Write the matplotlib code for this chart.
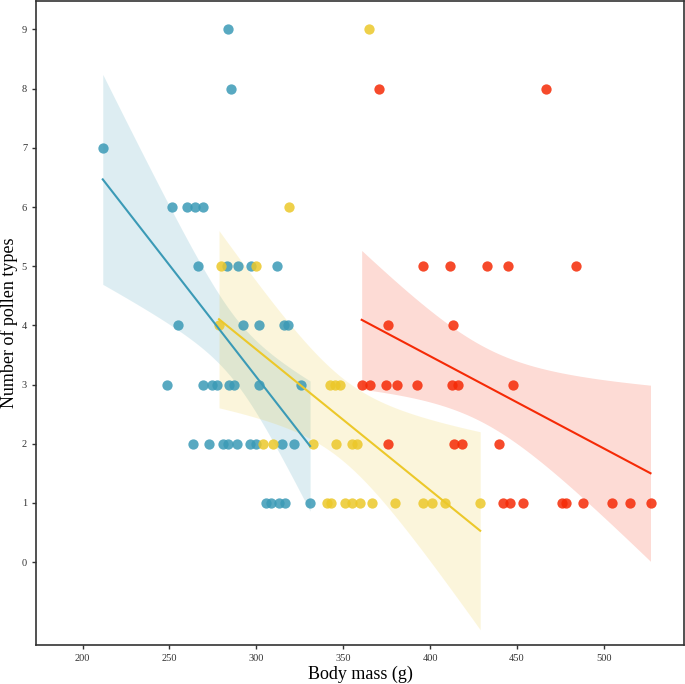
import numpy as np
import matplotlib.pyplot as plt

plt.rcParams['font.family'] = ['Liberation Serif', 'DejaVu Serif']

# Body mass (g) and number of pollen types
blue_mass = [305.6, 308.5, 313.1, 316.5, 330.9,
             263.4, 272.8, 280.8, 283.7, 288.7, 296.4, 299.8, 314.6, 321.7,
             248.8, 269.5, 274.3, 277.2, 284.5, 287.2, 301.7, 325.9,
             254.8, 292.5, 301.7, 316.1, 318.1,
             266.6, 283.3, 289.6, 296.8, 311.7,
             251.7, 260.0, 264.7, 269.5,
             211.6, 285.6, 283.5]
blue_pollen = [1] * 5 + [2] * 9 + [3] * 8 + [4] * 5 + [5] * 5 + [6] * 4 + [7, 8, 9]

yellow_mass = [340.7, 343.0, 351.0, 354.9, 359.7, 366.4, 379.8, 396.1, 400.9, 408.6, 428.8,
               304.0, 309.4, 332.5, 345.7, 354.9, 358.1,
               342.4, 345.3, 348.2,
               278.5,
               279.7, 299.8,
               318.8,
               364.9]
yellow_pollen = [1] * 11 + [2] * 6 + [3] * 3 + [4] + [5] * 2 + [6] + [9]

red_mass = [441.8, 446.0, 453.6, 475.9, 478.2, 487.8, 504.8, 515.0, 526.8,
            375.6, 413.8, 418.2, 439.6,
            360.6, 365.4, 374.6, 380.8, 392.6, 412.4, 416.2, 447.9,
            375.6, 413.3,
            395.7, 411.5, 432.6, 444.7, 483.8,
            370.6, 466.7]
red_pollen = [1] * 9 + [2] * 4 + [3] * 8 + [4] * 2 + [5] * 5 + [8, 8]

groups = [
    (blue_mass, blue_pollen, '#3b9ab6'),
    (yellow_mass, yellow_pollen, '#ecc82a'),
    (red_mass, red_pollen, '#f52a06'),
]

fig = plt.figure(figsize=(6.85, 6.84), dpi=100)
ax = fig.add_axes([0.0526, 0.057, 0.946, 0.9415])

for mass, pollen, color in groups:
    x = np.array(mass)
    y = np.array(pollen, dtype=float)
    ax.scatter(x, y, s=55, color=color, alpha=0.85, linewidths=0, zorder=2)

    # linear fit with 95% confidence band
    slope, icept = np.polyfit(x, y, 1)
    xs = np.linspace(x.min(), x.max(), 100)
    fit = icept + slope * xs
    n = len(x)
    resid = y - (icept + slope * x)
    s = np.sqrt(np.sum(resid ** 2) / (n - 2))
    sxx = np.sum((x - x.mean()) ** 2)
    half = 1.9 * s * np.sqrt(1 / n + (xs - x.mean()) ** 2 / sxx)
    ax.fill_between(xs, fit - half, fit + half, color=color, alpha=0.17, linewidth=0, zorder=1)
    ax.plot(xs, fit, color=color, lw=1.5, zorder=3)

ax.set_xlim(173.2, 546.1)
ax.set_ylim(-1.40, 9.48)
ax.set_xticks([200, 250, 300, 350, 400, 450, 500])
ax.set_yticks(range(10))
ax.tick_params(labelsize=7.5, length=3, width=1, colors='#333333')
for sp in ax.spines.values():
    sp.set_color('#333333')
    sp.set_linewidth(1.2)
ax.set_xlabel('Body mass (g)', fontsize=13, labelpad=2)
ax.set_ylabel('Number of pollen types', fontsize=13, labelpad=3)

fig.savefig('out.png', dpi=100)
